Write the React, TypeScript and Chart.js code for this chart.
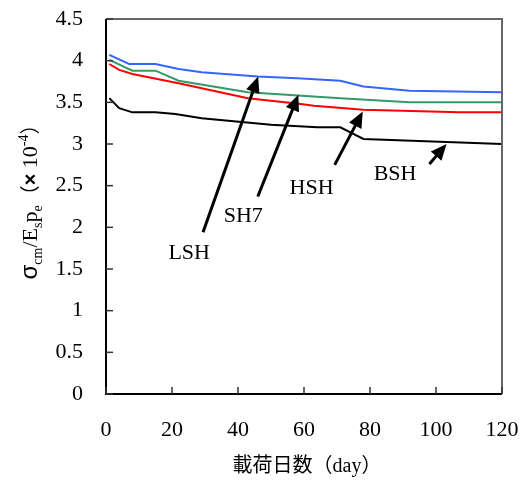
import React, { useEffect, useRef } from "react";
import { Chart, registerables } from "chart.js";
Chart.register(...registerables);

// ---- data ----
const lshDays = [1, 7, 15, 22, 29, 46, 58, 71, 78, 92, 120];
const lshValues = [4.07, 3.96, 3.96, 3.9, 3.86, 3.81, 3.79, 3.76, 3.69, 3.64, 3.62];
const sh7Days = [1, 8, 15, 22, 43, 71, 92, 120];
const sh7Values = [4.01, 3.88, 3.88, 3.76, 3.62, 3.55, 3.5, 3.5];
const hshDays = [1, 4, 8, 22, 43, 59, 63, 78, 107, 120];
const hshValues = [3.96, 3.89, 3.84, 3.73, 3.55, 3.48, 3.46, 3.41, 3.38, 3.38];
const bshDays = [1, 4, 8, 15, 21, 29, 50, 64, 71, 78, 120];
const bshValues = [3.55, 3.43, 3.38, 3.38, 3.36, 3.31, 3.23, 3.2, 3.2, 3.06, 3.0];

const seriesNames = ["LSH", "SH7", "HSH", "BSH"];
const seriesColors = ["#3366FF", "#339966", "#FF0000", "#000000"];

const xTicks = [0, 20, 40, 60, 80, 100, 120];
const yTicks = [0, 0.5, 1, 1.5, 2, 2.5, 3, 3.5, 4, 4.5];

// annotation labels and arrows (data coordinates)
const labelX = [25.2, 41.6, 62.3, 87.6];
const labelY = [1.69, 2.13, 2.47, 2.64];
const arrowTailX = [29.4, 46.0, 69.3, 98.0];
const arrowTailY = [1.94, 2.37, 2.75, 2.76];
const arrowHeadX = [46.1, 58.3, 77.8, 103.2];
const arrowHeadY = [3.81, 3.59, 3.39, 3.0];

const xTitleParts: [string, string][] = [
  ["載荷日数", "20px 'Noto Sans CJK JP'"],
  ["（", "20px 'Noto Sans CJK JP'"],
  ["day", "20px 'Liberation Serif'"],
  ["）", "20px 'Noto Sans CJK JP'"],
];

// [text, font, baseline offset]
const yTitleParts: [string, string, number][] = [
  ["σ", "24px 'Liberation Sans'", 0],
  ["cm", "14px 'Liberation Serif'", 5],
  ["/E", "22px 'Liberation Serif'", 0],
  ["s", "14px 'Liberation Serif'", 5],
  ["p", "22px 'Liberation Serif'", 0],
  ["e", "14px 'Liberation Serif'", 5],
  ["（", "20px 'Noto Sans CJK JP'", 0],
  ["×", "bold 20px 'Liberation Sans'", 0],
  [" 10", "22px 'Liberation Serif'", 0],
  ["-4", "14px 'Liberation Serif'", -9],
  ["）", "20px 'Noto Sans CJK JP'", 0],
];

const decorPlugin = {
  id: "decor",
  afterDatasetsDraw(chart: any) {
    const { ctx, chartArea: a, scales } = chart;
    const xs = scales.x;
    const ys = scales.y;
    ctx.save();
    const line = (x1: number, y1: number, x2: number, y2: number) => {
      ctx.beginPath();
      ctx.moveTo(x1, y1);
      ctx.lineTo(x2, y2);
      ctx.stroke();
    };
    // frame
    ctx.lineWidth = 2;
    ctx.strokeStyle = "#666666";
    ctx.beginPath();
    ctx.moveTo(a.left, a.top);
    ctx.lineTo(a.right, a.top);
    ctx.lineTo(a.right, a.bottom);
    ctx.stroke();
    ctx.strokeStyle = "#000000";
    ctx.beginPath();
    ctx.moveTo(a.left, a.top);
    ctx.lineTo(a.left, a.bottom);
    ctx.lineTo(a.right, a.bottom);
    ctx.stroke();
    // inward ticks
    ctx.lineWidth = 1.5;
    ctx.strokeStyle = "#333333";
    xTicks.forEach((v) => {
      const px = xs.getPixelForValue(v);
      line(px, a.bottom, px, a.bottom - 7);
    });
    yTicks.forEach((v) => {
      const py = ys.getPixelForValue(v);
      line(a.left, py, a.left + 7, py);
    });
    // arrows
    ctx.strokeStyle = "#000000";
    ctx.fillStyle = "#000000";
    ctx.lineWidth = 3;
    for (let i = 0; i < arrowTailX.length; i++) {
      const tx = xs.getPixelForValue(arrowTailX[i]);
      const ty = ys.getPixelForValue(arrowTailY[i]);
      const hx = xs.getPixelForValue(arrowHeadX[i]);
      const hy = ys.getPixelForValue(arrowHeadY[i]);
      const dx = hx - tx;
      const dy = hy - ty;
      const len = Math.hypot(dx, dy);
      const ux = dx / len;
      const uy = dy / len;
      const L = 16;
      const W = 7;
      const bx = hx - ux * L;
      const by = hy - uy * L;
      line(tx, ty, bx + ux * 2, by + uy * 2);
      ctx.beginPath();
      ctx.moveTo(hx, hy);
      ctx.lineTo(bx - uy * W, by + ux * W);
      ctx.lineTo(bx + uy * W, by - ux * W);
      ctx.closePath();
      ctx.fill();
    }
    // labels
    ctx.font = "22px 'Liberation Serif'";
    ctx.textAlign = "center";
    ctx.textBaseline = "middle";
    for (let i = 0; i < seriesNames.length; i++) {
      ctx.fillText(seriesNames[i], xs.getPixelForValue(labelX[i]), ys.getPixelForValue(labelY[i]));
    }
    // x title
    ctx.textAlign = "left";
    ctx.textBaseline = "alphabetic";
    let total = 0;
    xTitleParts.forEach(([t, f]) => {
      ctx.font = f;
      total += ctx.measureText(t).width;
    });
    let cx = (a.left + a.right) / 2 + 3 - total / 2;
    xTitleParts.forEach(([t, f]) => {
      ctx.font = f;
      ctx.fillText(t, cx, 472);
      cx += ctx.measureText(t).width;
    });
    // y title
    ctx.save();
    ctx.translate(30, 197);
    ctx.rotate(-Math.PI / 2);
    total = 0;
    yTitleParts.forEach(([t, f]) => {
      ctx.font = f;
      total += ctx.measureText(t).width;
    });
    let px = -total / 2;
    yTitleParts.forEach(([t, f, off]) => {
      ctx.font = f;
      ctx.fillText(t, px, 7 + off);
      px += ctx.measureText(t).width;
    });
    ctx.restore();
    ctx.restore();
  },
};

function mk(days: number[], vals: number[]) {
  return days.map((d, i) => ({ x: d, y: vals[i] }));
}

function zeroPad(s: any) {
  s.paddingTop = 0;
  s.paddingBottom = 0;
  s.paddingLeft = 0;
  s.paddingRight = 0;
}

export default function App() {
  const ref = useRef<HTMLCanvasElement | null>(null);
  useEffect(() => {
    if (!ref.current) return;
    const seriesData = [
      mk(lshDays, lshValues),
      mk(sh7Days, sh7Values),
      mk(hshDays, hshValues),
      mk(bshDays, bshValues),
    ];
    const chart = new Chart(ref.current, {
      type: "line",
      data: {
        datasets: seriesData.map((d, i) => ({
          label: seriesNames[i],
          data: d,
          borderColor: seriesColors[i],
          backgroundColor: seriesColors[i],
          borderWidth: 2,
          pointRadius: 0,
          tension: 0,
          fill: false,
        })),
      },
      options: {
        responsive: false,
        animation: false,
        parsing: false as any,
        layout: { padding: { top: 19, right: 24, left: 0, bottom: 0 } },
        plugins: { legend: { display: false }, tooltip: { enabled: false } },
        scales: {
          x: {
            type: "linear",
            min: 0,
            max: 120,
            afterFit: (s: any) => {
              s.height = 86;
              zeroPad(s);
            },
            afterBuildTicks: (s: any) => {
              s.ticks = xTicks.map((v) => ({ value: v }));
            },
            ticks: {
              padding: 23,
              color: "#000",
              font: { family: "'Liberation Serif'", size: 22 },
              callback: (v: any) => String(v),
            },
            grid: { display: false, drawTicks: false },
            border: { display: false },
          },
          y: {
            type: "linear",
            min: 0,
            max: 4.5,
            afterFit: (s: any) => {
              s.width = 106;
              zeroPad(s);
            },
            afterBuildTicks: (s: any) => {
              s.ticks = yTicks.map((v) => ({ value: v }));
            },
            ticks: {
              padding: 23,
              color: "#000",
              font: { family: "'Liberation Serif'", size: 22 },
              callback: (v: any) => String(v),
            },
            grid: { display: false, drawTicks: false },
            border: { display: false },
          },
        },
      },
      plugins: [decorPlugin],
    });
    return () => chart.destroy();
  }, []);
  return (
    <div style={{ position: "fixed", left: 0, top: 0, width: 526, height: 480, background: "#fff" }}>
      <canvas ref={ref} width={526} height={480} style={{ display: "block" }} />
    </div>
  );
}
